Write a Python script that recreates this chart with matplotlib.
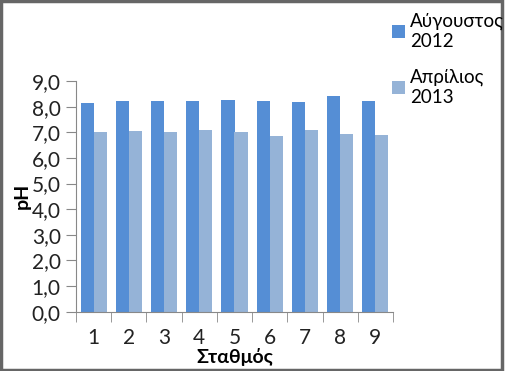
import matplotlib.pyplot as plt
import numpy as np
from matplotlib.patches import Rectangle

stations = ['1', '2', '3', '4', '5', '6', '7', '8', '9']
aug_2012 = [8.14, 8.22, 8.22, 8.22, 8.27, 8.22, 8.18, 8.42, 8.22]
apr_2013 = [7.01, 7.06, 7.01, 7.09, 7.01, 6.87, 7.09, 6.93, 6.89]
series_names = ['Αύγουστος\n2012', 'Απρίλιος\n2013']
yticks = np.arange(0, 9.01, 1.0)

plt.rcParams['font.family'] = ['Lato', 'DejaVu Sans']
fontsize = 15
col_aug = '#558ed5'
col_apr = '#95b3d7'

fig = plt.figure(figsize=(5.05, 3.71), dpi=100)
W, H = 505, 371
ax = fig.add_axes([76 / W, 1 - 311.7 / H, (393 - 76) / W, (311.7 - 81) / H])

x = np.arange(len(stations))
w = 0.37
ax.bar(x - w / 2, aug_2012, w, color=col_aug, label=series_names[0])
ax.bar(x + w / 2, apr_2013, w, color=col_apr, label=series_names[1])

ax.set_xlim(-0.5, len(stations) - 0.5)
ax.set_ylim(0, 9)
ax.set_yticks(yticks)
ax.set_yticklabels([f'{v:.1f}'.replace('.', ',') for v in yticks], fontsize=fontsize, color='#222222')
ax.set_xticks(x)
ax.set_xticklabels(stations, fontsize=fontsize, color='#222222')
ax.set_xticks(np.arange(-0.5, len(stations)), minor=True)
ax.tick_params(axis='x', which='major', length=0, pad=12)
ax.tick_params(axis='x', which='minor', length=7, color='#888888', direction='out')
ax.tick_params(axis='y', length=7, color='#888888', direction='out', pad=4)
for s in ['top', 'right']:
    ax.spines[s].set_visible(False)
for s in ['left', 'bottom']:
    ax.spines[s].set_color('#888888')

ax.set_xlabel('Σταθμός', fontsize=14, fontweight='bold', labelpad=0)
ax.set_ylabel('pH', fontsize=14, fontweight='bold', labelpad=1)

leg = fig.legend(loc='upper left', bbox_to_anchor=(384 / W, 1 - 5 / H), frameon=False,
                 fontsize=13.5, handlelength=0.7, handleheight=0.7, handletextpad=0.3,
                 labelspacing=1.0, borderaxespad=0)

fig.patches.append(Rectangle((0.002, 0.004), 0.992, 0.993, transform=fig.transFigure,
                             fill=False, edgecolor='#666666', linewidth=2.5))

fig.savefig('out.png', dpi=100)
